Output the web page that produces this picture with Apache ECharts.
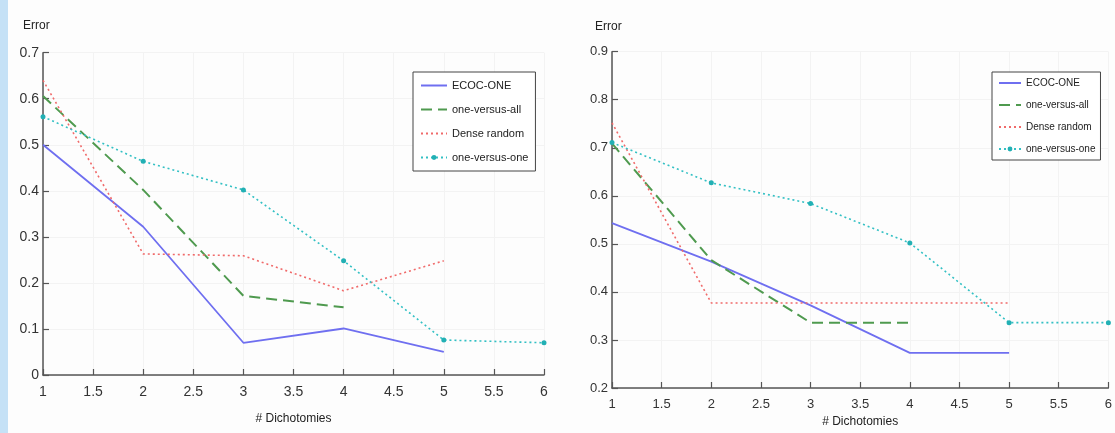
<!DOCTYPE html>
<html><head><meta charset="utf-8">
<script src="https://cdn.jsdelivr.net/npm/echarts@6/dist/echarts.min.js"></script>
<style>html,body{margin:0;padding:0;background:#fff}#c{width:1115px;height:433px}</style>
</head><body><div id="c"></div>
<script>
// ---- data ----
const xValues = [1, 2, 3, 4, 5, 6];
const seriesNames = ['ECOC-ONE', 'one-versus-all', 'Dense random', 'one-versus-one'];

// left panel
const leftEcoc = [0.500, 0.322, 0.070, 0.101, 0.050];
const leftOva = [0.606, 0.402, 0.172, 0.147];
const leftDense = [0.640, 0.263, 0.259, 0.183, 0.248];
const leftOvo = [0.561, 0.464, 0.402, 0.248, 0.076, 0.070];

// right panel
const rightEcoc = [0.543, 0.463, 0.372, 0.273, 0.273];
const rightOva = [0.709, 0.466, 0.336, 0.336];
const rightDense = [0.752, 0.377, 0.377, 0.377, 0.377];
const rightOvo = [0.711, 0.627, 0.584, 0.502, 0.336, 0.336];

const FONT = "'Liberation Sans', Arial, sans-serif";

function pairs(vals) { return vals.map((v, i) => [xValues[i], v]); }

function makeSeries(gi, ecoc, ova, dense, ovo) {
  return [
    { name: seriesNames[0], type: 'line', xAxisIndex: gi, yAxisIndex: gi, data: pairs(ecoc),
      symbol: 'none', lineStyle: { color: '#6f6ff0', width: 1.8, type: 'solid' }, itemStyle: { color: '#6f6ff0' } },
    { name: seriesNames[1], type: 'line', xAxisIndex: gi, yAxisIndex: gi, data: pairs(ova),
      symbol: 'none', lineStyle: { color: '#4f9a4f', width: 2, type: [11, 6] }, itemStyle: { color: '#4f9a4f' } },
    { name: seriesNames[2], type: 'line', xAxisIndex: gi, yAxisIndex: gi, data: pairs(dense),
      symbol: 'none', lineStyle: { color: '#f06a6a', width: 1.6, type: [2, 3] }, itemStyle: { color: '#f06a6a' } },
    { name: seriesNames[3], type: 'line', xAxisIndex: gi, yAxisIndex: gi, data: pairs(ovo),
      symbol: 'circle', symbolSize: 5, showSymbol: true,
      lineStyle: { color: '#33c0c4', width: 1.6, type: [2, 3] }, itemStyle: { color: '#22b0b4' } }
  ];
}

function xAxisCfg(gi, fs, gap) {
  return {
    gridIndex: gi, type: 'value', min: 1, max: 6, interval: 0.5,
    axisLine: { show: true, onZero: false, lineStyle: { color: '#555', width: 1.5 } },
    axisTick: { show: true, inside: true, length: 6, lineStyle: { color: '#555', width: 1.2 } },
    axisLabel: { color: '#333', fontSize: fs, fontFamily: FONT, margin: 10, formatter: v => String(v) },
    splitLine: { show: true, lineStyle: { color: '#f3f3f3', width: 1 } },
    name: '# Dichotomies', nameLocation: 'middle', nameGap: gap,
    nameTextStyle: { color: '#222', fontSize: 12, fontFamily: FONT }
  };
}
function yAxisCfg(gi, min, max, fs) {
  return {
    gridIndex: gi, type: 'value', min: min, max: max, interval: 0.1,
    axisLine: { show: true, onZero: false, lineStyle: { color: '#555', width: 1.5 } },
    axisTick: { show: true, inside: true, length: 6, lineStyle: { color: '#555', width: 1.2 } },
    axisLabel: { color: '#333', fontSize: fs, fontFamily: FONT, margin: 4,
      formatter: v => (Math.abs(v) < 1e-9 ? '0' : (Math.round(v * 10) / 10).toFixed(1)) },
    splitLine: { show: true, lineStyle: { color: '#f3f3f3', width: 1 } }
  };
}
function legendData() {
  return seriesNames.map((n, i) => (i === 3 ? { name: n } : { name: n, itemStyle: { opacity: 0 } }));
}

const chart = echarts.init(document.getElementById('c'));
chart.setOption({
  backgroundColor: '#fdfdfd',
  animation: false,
  graphic: [{ type: 'rect', shape: { x: 0, y: 0, width: 8, height: 433 }, style: { fill: '#c5e1f6' }, z: -1 }],
  title: [
    { text: 'Error', left: 18, top: 15, textStyle: { fontSize: 12, fontWeight: 'normal', color: '#222', fontFamily: FONT } },
    { text: 'Error', left: 590, top: 16, textStyle: { fontSize: 12, fontWeight: 'normal', color: '#222', fontFamily: FONT } }
  ],
  grid: [
    { left: 43, top: 52.7, width: 501, height: 322.3 },
    { left: 612, top: 51.7, width: 501.5, height: 336.3 }
  ],
  xAxis: [xAxisCfg(0, 14, 38), xAxisCfg(1, 13, 28)],
  yAxis: [yAxisCfg(0, 0, 0.7, 14), yAxisCfg(1, 0.2, 0.9, 13)],
  legend: [
    { data: legendData(), orient: 'vertical', left: 413, top: 72, itemWidth: 26, itemHeight: 6, itemGap: 13,
      backgroundColor: '#fff', borderColor: '#444', borderWidth: 1, borderRadius: 0, padding: [8, 7, 8, 7],
      textStyle: { fontSize: 11, fontFamily: FONT, color: '#222' }, selectedMode: false },
    { data: legendData(), orient: 'vertical', left: 992, top: 72, itemWidth: 22, itemHeight: 6, itemGap: 12,
      backgroundColor: '#fff', borderColor: '#444', borderWidth: 1, borderRadius: 0, padding: [6, 5, 6, 6],
      textStyle: { fontSize: 10, fontFamily: FONT, color: '#222' }, selectedMode: false }
  ],
  series: [].concat(
    makeSeries(0, leftEcoc, leftOva, leftDense, leftOvo),
    makeSeries(1, rightEcoc, rightOva, rightDense, rightOvo)
  )
});
</script></body></html>
